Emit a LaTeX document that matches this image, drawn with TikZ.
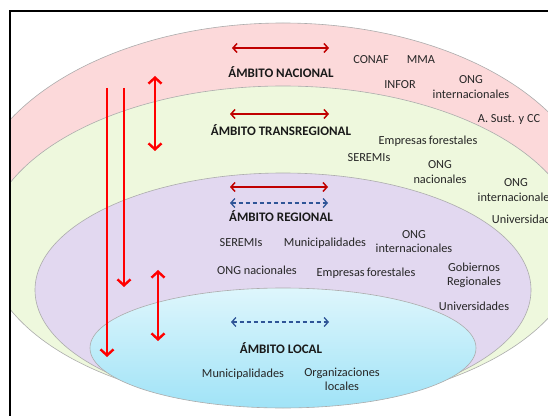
\documentclass[tikz,border=0pt]{standalone}
\usepackage{fontspec}
\setmainfont{Carlito}
\usetikzlibrary{arrows.meta}

\definecolor{nacfill}{RGB}{252,217,218}
\definecolor{transfill}{RGB}{238,248,221}
\definecolor{regfill}{RGB}{226,216,240}
\definecolor{loctop}{RGB}{222,246,252}
\definecolor{locbot}{RGB}{160,227,247}
\definecolor{bigred}{RGB}{255,0,0}
\definecolor{darkred}{RGB}{192,0,0}
\definecolor{dashblue}{RGB}{47,85,151}

\tikzset{
  ambito/.style={font=\fontsize{13}{15}\selectfont\bfseries, text=black!90},
  actor/.style={font=\fontsize{12.3}{14.5}\selectfont, align=center, text=black!85},
  ring/.style={draw=gray!65, line width=0.6pt},
  vlink/.style={bigred, line width=2.4pt, -{Straight Barb[length=6pt,width=13pt]}},
  vboth/.style={bigred, line width=2.4pt, {Straight Barb[length=6pt,width=13pt]}-{Straight Barb[length=6pt,width=13pt]}},
  hlink/.style={darkred, line width=1.5pt, {Straight Barb[length=4pt,width=9pt]}-{Straight Barb[length=4pt,width=9pt]}},
  hdash/.style={dashblue, line width=1.3pt, dash pattern=on 4pt off 3pt, {Straight Barb[length=4pt,width=9pt]}-{Straight Barb[length=4pt,width=9pt]}}
}

\begin{document}
\begin{tikzpicture}[x=1pt, y=1pt, node distance=50pt]
    \useasboundingbox (0,0) rectangle (548,415);

    % nested scopes
    \begin{scope}
        \clip (10,404) rectangle (560,-10);
        \draw[ring, fill=nacfill] (283,200.5) ellipse [x radius=314, y radius=191.5];
        \draw[ring, fill=transfill] (283,169) ellipse [x radius=297, y radius=160];
        \draw[ring, fill=regfill] (283,125) ellipse [x radius=248, y radius=117];
        \draw[ring, top color=loctop, bottom color=locbot] (283,67) ellipse [x radius=193, y radius=60];
    \end{scope}
    \draw[line width=1.4pt] (560,404) -- (10,404) -- (10,-10);

    \node[ambito] (nacional) at (281,343) {ÁMBITO NACIONAL};
    \node[ambito] (transreg) at (281,285) {ÁMBITO TRANSREGIONAL};
    \node[ambito] (regional) at (281,199) {ÁMBITO REGIONAL};
    \node[ambito] (local) at (281,67) {ÁMBITO LOCAL};

    % nacional
    \node[actor] (conaf) at (371,355) {CONAF};
    \node[actor, right of=conaf] (mma) {MMA};
    \node[actor] (infor) at (400,330) {INFOR};
    \node[actor] (ongint1) at (471,328) {ONG\\internacionales};
    \node[actor] (asust) at (509,295) {A. Sust. y CC};

    % transregional
    \node[actor] (empfor1) at (428,274) {Empresas\,forestales};
    \node[actor] (seremi1) at (369,257) {SEREMIs};
    \node[actor] (ongnac1) at (440,243) {ONG\\nacionales};
    \node[actor] (ongint2) at (516,225) {ONG\\internacionales};
    \node[actor] (univ1) at (527,196) {Universidades};

    % regional
    \node[actor] (seremi2) at (241,172) {SEREMIs};
    \node[actor] (munic1) at (325,172) {Municipalidades};
    \node[actor] (ongint3) at (414,173.5) {ONG\\internacionales};
    \node[actor] (ongnac2) at (257,145) {ONG nacionales};
    \node[actor] (empfor2) at (366,142) {Empresas\,forestales};
    \node[actor] (gobreg) at (474,139.5) {Gobiernos\\Regionales};
    \node[actor] (univ2) at (474,109) {Universidades};

    % local
    \node[actor] (munic2) at (243,41) {Municipalidades};
    \node[actor] (orgloc) at (342,35.5) {Organizaciones\\locales};

    % arrows
    \coordinate (nacL) at (232,367);  \coordinate (nacR) at (329,367);
    \coordinate (traL) at (230,301);  \coordinate (traR) at (329,301);
    \coordinate (regL) at (230,228);  \coordinate (regR) at (328,228);
    \coordinate (regbL) at (230,212); \coordinate (regbR) at (328,212);
    \coordinate (locL) at (231,93);   \coordinate (locR) at (329,93);
    \draw[hlink] (nacL) -- (nacR);
    \draw[hlink] (traL) -- (traR);
    \draw[hlink] (regL) -- (regR);
    \draw[hdash] (regbL) -- (regbR);
    \draw[hdash] (locL) -- (locR);

    \coordinate (downA) at (107,327); \coordinate (endA) at (107,58);
    \coordinate (downB) at (124,327); \coordinate (endB) at (124,128);
    \coordinate (upC) at (155,339);   \coordinate (endC) at (155,264);
    \coordinate (upD) at (158,145);   \coordinate (endD) at (158,74);
    \draw[vlink] (downA) -- (endA);
    \draw[vlink] (downB) -- (endB);
    \draw[vboth] (upC) -- (endC);
    \draw[vboth] (upD) -- (endD);
\end{tikzpicture}
\end{document}
